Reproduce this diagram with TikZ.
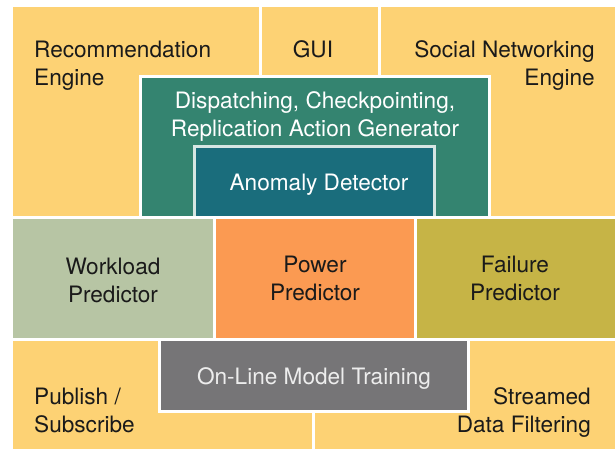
\documentclass[tikz,border=0pt]{standalone}
\usepackage{fontspec}
\setmainfont{TeX Gyre Heros}
\definecolor{cyellow}{HTML}{FDD274}
\definecolor{cdisp}{HTML}{348470}
\definecolor{canom}{HTML}{1A6D7C}
\definecolor{cwork}{HTML}{B7C5A4}
\definecolor{cpower}{HTML}{FB9A52}
\definecolor{cfail}{HTML}{C6B446}
\definecolor{cgray}{HTML}{767577}
\definecolor{ctext}{HTML}{1A1A1A}
\definecolor{canomedge}{HTML}{D6E6E3}
\begin{document}
\begin{tikzpicture}[x=1pt,y=-1pt,
  cell/.style={draw=white, line width=3pt},
  lbl/.style={font=\fontsize{22.6}{28}\selectfont, inner sep=0pt},
  darktext/.style={lbl, text=ctext},
  lighttext/.style={lbl, text=white}]
\useasboundingbox (0,0) rectangle (615,449);
\clip (0,0) rectangle (615,449);
\fill[white] (0,0) rectangle (615,449);
% top row
\path[cell, fill=cyellow] (11.5,5.5) rectangle (260.5,217.5);
\path[cell, fill=cyellow] (260.5,5.5) rectangle (379.5,217.5);
\path[cell, fill=cyellow] (379.5,5.5) rectangle (620,217.5);
\path[cell, fill=cdisp] (140.5,76.5) rectangle (489.5,217.5);
\path[cell, fill=canom, draw=canomedge] (194,147) rectangle (434,220);
% middle row
\path[cell, fill=cwork] (11.5,217.5) rectangle (214.5,339.5);
\path[cell, fill=cpower] (214.5,217.5) rectangle (415,339.5);
\path[cell, fill=cfail] (415,217.5) rectangle (620,339.5);
% bottom row
\path[cell, fill=cyellow] (11.5,339.5) rectangle (313.5,455);
\path[cell, fill=cyellow] (313.5,339.5) rectangle (620,455);
\path[cell, fill=cgray] (159.5,339.5) rectangle (468.5,411);
% labels (base anchor = baseline of the last line)
\node[darktext, anchor=base west, align=left] (rec) at (34,86) {Recommendation\\Engine};
\node[darktext, anchor=base] (gui) at (313,58) {GUI};
\node[darktext, anchor=base east, align=right] (soc) at (595,86) {Social Networking\\Engine};
\node[lighttext, anchor=base, align=center] (disp) at (315,137) {Dispatching, Checkpointing,\\Replication Action Generator};
\node[lighttext, anchor=base] (anom) at (319,190) {Anomaly Detector};
\node[darktext, anchor=base, align=center] (work) at (113,302) {Workload\\Predictor};
\node[darktext, anchor=base, align=center] (pow) at (315,300) {Power\\Predictor};
\node[darktext, anchor=base, align=center] (fail) at (515,300) {Failure\\Predictor};
\node[lighttext, text=white!93!black, anchor=base] (train) at (314,384) {On-Line Model Training};
\node[darktext, anchor=base west, align=left] (pub) at (34,432) {Publish /\\Subscribe};
\node[darktext, anchor=base east, align=right] (str) at (591,432) {Streamed\\Data Filtering};
\end{tikzpicture}
\end{document}
